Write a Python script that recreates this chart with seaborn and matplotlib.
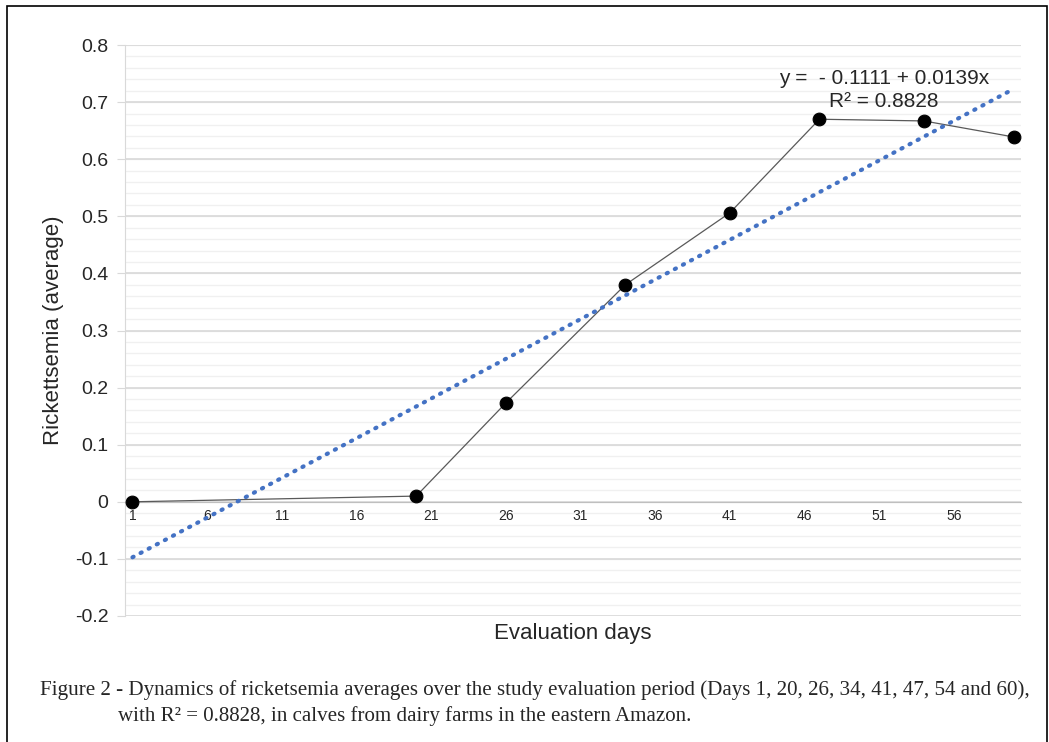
import numpy as np
import pandas as pd
import matplotlib
matplotlib.use("Agg")
import matplotlib.pyplot as plt
from matplotlib.patches import Rectangle
import seaborn as sns

# dados
dias = [1, 20, 26, 34, 41, 47, 54, 60]
rickettsemia = [0.0, 0.01, 0.173, 0.38, 0.506, 0.670, 0.667, 0.639]
intercepto = -0.1111
inclinacao = 0.0139
r2 = 0.8828
rotulos_x = [1, 6, 11, 16, 21, 26, 31, 36, 41, 46, 51, 56]
rotulos_y = [-0.2, -0.1, 0, 0.1, 0.2, 0.3, 0.4, 0.5, 0.6, 0.7, 0.8]

dados = pd.DataFrame({'Dia': dias, 'Media': rickettsemia})
tendencia = pd.DataFrame({'Dia': [1, 60]})
tendencia['Media'] = intercepto + inclinacao * tendencia['Dia']

sns.set_style('white')
plt.rcParams['font.family'] = ['Liberation Sans', 'DejaVu Sans']
plt.rcParams['axes.unicode_minus'] = False

fig = plt.figure(figsize=(10.49, 7.42), dpi=100)
ax = fig.add_axes([125 / 1049, 1 - 616 / 742, (1021 - 125) / 1049, (616 - 45) / 742])

# grade: principal a cada 0.1, secundaria a cada 0.02
for v in np.arange(-0.2, 0.8001, 0.02):
    ax.axhline(v, color='#f0f0f0', lw=1, zorder=0)
for v in rotulos_y:
    ax.axhline(v, color='#d9d9d9', lw=1.2, zorder=0)

sns.lineplot(data=dados, x='Dia', y='Media', color='#595959', lw=0.9, ax=ax, zorder=3)
sns.scatterplot(data=dados, x='Dia', y='Media', color='black', s=85, edgecolor='black', ax=ax, zorder=4)
sns.lineplot(data=tendencia, x='Dia', y='Media', color='#4472C4', lw=3, ax=ax, zorder=5,
             linestyle=(0, (0.3, 1.9)), dash_capstyle='round')

ax.set_xlim(0.5, 60.5)
ax.set_ylim(-0.2, 0.8)
ax.set_xticks(rotulos_x)
ax.set_xticklabels([str(x) for x in rotulos_x], fontsize=10.5)
ax.set_xticks(np.arange(5.5, 61, 5), minor=True)
ax.tick_params(axis='x', which='major', length=0, pad=5)
ax.tick_params(axis='x', which='minor', length=4, color='#bfbfbf', direction='out')
ax.set_yticks(rotulos_y)
ax.set_yticklabels(['%g' % v for v in rotulos_y], fontsize=14)
ax.tick_params(axis='y', length=6, color='#d9d9d9', pad=6, left=True)

for s in ['top', 'right']:
    ax.spines[s].set_visible(False)
ax.spines['bottom'].set_position(('data', 0))
ax.spines['bottom'].set_color('#bfbfbf')
ax.spines['left'].set_color('#d9d9d9')

ax.set_xlabel('')
ax.set_ylabel('Rickettsemia (average)', fontsize=16, labelpad=8)
fig.text(573 / 1049, 1 - 634 / 742, 'Evaluation days', fontsize=16, ha='center', va='center')

ax.text(884 / 1049, 1 - 90 / 742,
        'y =  - %.4f + %.4fx\nR² = %.4f' % (-intercepto, inclinacao, r2),
        transform=fig.transFigure, fontsize=15, ha='center', va='center', linespacing=1.25)

# legenda da figura
fig.text(40 / 1049, 1 - 690 / 742,
         'Figure 2 - Dynamics of ricketsemia averages over the study evaluation period (Days 1, 20, 26, 34, 41, 47, 54 and 60),',
         family='Liberation Serif', fontsize=15.1, va='center')
fig.text(118 / 1049, 1 - 716 / 742,
         'with R² = 0.8828, in calves from dairy farms in the eastern Amazon.',
         family='Liberation Serif', fontsize=15.1, va='center')

fig.patches.append(Rectangle((7 / 1049, -0.05), (1047 - 7) / 1049, 1.05 - 6 / 742,
                             transform=fig.transFigure, fill=False, edgecolor='black', lw=1.2))

fig.savefig('out.png', dpi=100)
